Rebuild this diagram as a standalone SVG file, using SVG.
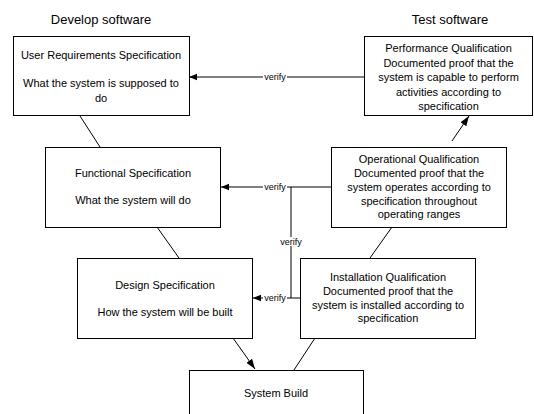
<svg xmlns="http://www.w3.org/2000/svg" width="534" height="414" viewBox="0 0 534 414">
<style>
.box{fill:#fff;stroke:#000;stroke-width:1}
text{font-family:"Liberation Sans",Arial,sans-serif;fill:#000;text-anchor:middle}
.t{font-size:11px}
.h{font-size:13px}
.v{font-size:9px}
.c{stroke:#000;stroke-width:1;fill:none}
.lb{fill:#fff;stroke:none}
</style>
<defs>
<marker id="ah" viewBox="0 0 10 10" refX="10" refY="5" markerWidth="8" markerHeight="8" markerUnits="userSpaceOnUse" orient="auto">
<path d="M0,1 L10,5 L0,9 z" fill="#000"/>
</marker>
<marker id="ahb" viewBox="0 0 10 10" refX="10" refY="5" markerWidth="10" markerHeight="10" markerUnits="userSpaceOnUse" orient="auto">
<path d="M0,1.5 L10,5 L0,8.5 z" fill="#000"/>
</marker>
</defs>
<text class="h" x="101" y="24">Develop software</text>
<text class="h" x="450" y="24">Test software</text>
<g id="connectors">
<line class="c" x1="80" y1="116" x2="100" y2="147"/>
<line class="c" x1="157" y1="227" x2="179" y2="258"/>
<line class="c" x1="233" y1="338" x2="255" y2="369" marker-end="url(#ahb)"/>
<line class="c" x1="315" y1="338" x2="294" y2="370"/>
<line class="c" x1="392" y1="227" x2="370" y2="258"/>
<line class="c" x1="452" y1="141" x2="469" y2="116" marker-end="url(#ahb)"/>
<line class="c" x1="364" y1="77" x2="189" y2="77" marker-end="url(#ah)"/>
<line class="c" x1="331" y1="187" x2="221" y2="187" marker-end="url(#ah)"/>
<line class="c" x1="300" y1="298" x2="253" y2="298" marker-end="url(#ah)"/>
<polyline class="c" points="291,187 291,298"/>
<rect class="lb" x="263" y="72" width="24" height="9"/>
<text class="v" x="275" y="80">verify</text>
<rect class="lb" x="263" y="182" width="24" height="9"/>
<text class="v" x="275" y="190">verify</text>
<rect class="lb" x="279" y="237" width="24" height="9"/>
<text class="v" x="291" y="245">verify</text>
<rect class="lb" x="263" y="293" width="24" height="9"/>
<text class="v" x="275" y="301">verify</text>
</g>
<g id="urs">
<rect class="box" x="13.5" y="36.5" width="176" height="79"/>
<text class="t" x="101" y="59">User Requirements Specification</text>
<text class="t" x="101" y="87">What the system is supposed to</text>
<text class="t" x="101" y="102">do</text>
</g>
<g id="fs">
<rect class="box" x="45.5" y="147.5" width="175" height="80"/>
<text class="t" x="133" y="177">Functional Specification</text>
<text class="t" x="133" y="204">What the system will do</text>
</g>
<g id="ds">
<rect class="box" x="77.5" y="258.5" width="175" height="80"/>
<text class="t" x="165" y="289">Design Specification</text>
<text class="t" x="165" y="316">How the system will be built</text>
</g>
<g id="sb">
<rect class="box" x="189.5" y="370.5" width="174" height="50"/>
<text class="t" x="276" y="397">System Build</text>
</g>
<g id="pq">
<rect class="box" x="364.5" y="36.5" width="168" height="79"/>
<text class="t" x="448.5" y="52">Performance Qualification</text>
<text class="t" x="448.5" y="67">Documented proof that the</text>
<text class="t" x="448.5" y="81">system is capable to perform</text>
<text class="t" x="448.5" y="96">activities according to</text>
<text class="t" x="448.5" y="110">specification</text>
</g>
<g id="oq">
<rect class="box" x="331.5" y="147.5" width="175" height="80"/>
<text class="t" x="419" y="163">Operational Qualification</text>
<text class="t" x="419" y="177">Documented proof that the</text>
<text class="t" x="419" y="191">system operates according to</text>
<text class="t" x="419" y="205">specification throughout</text>
<text class="t" x="419" y="218">operating ranges</text>
</g>
<g id="iq">
<rect class="box" x="300.5" y="258.5" width="175" height="80"/>
<text class="t" x="388" y="281">Installation Qualification</text>
<text class="t" x="388" y="295">Documented proof that the</text>
<text class="t" x="388" y="309">system is installed according to</text>
<text class="t" x="388" y="322">specification</text>
</g>
</svg>
